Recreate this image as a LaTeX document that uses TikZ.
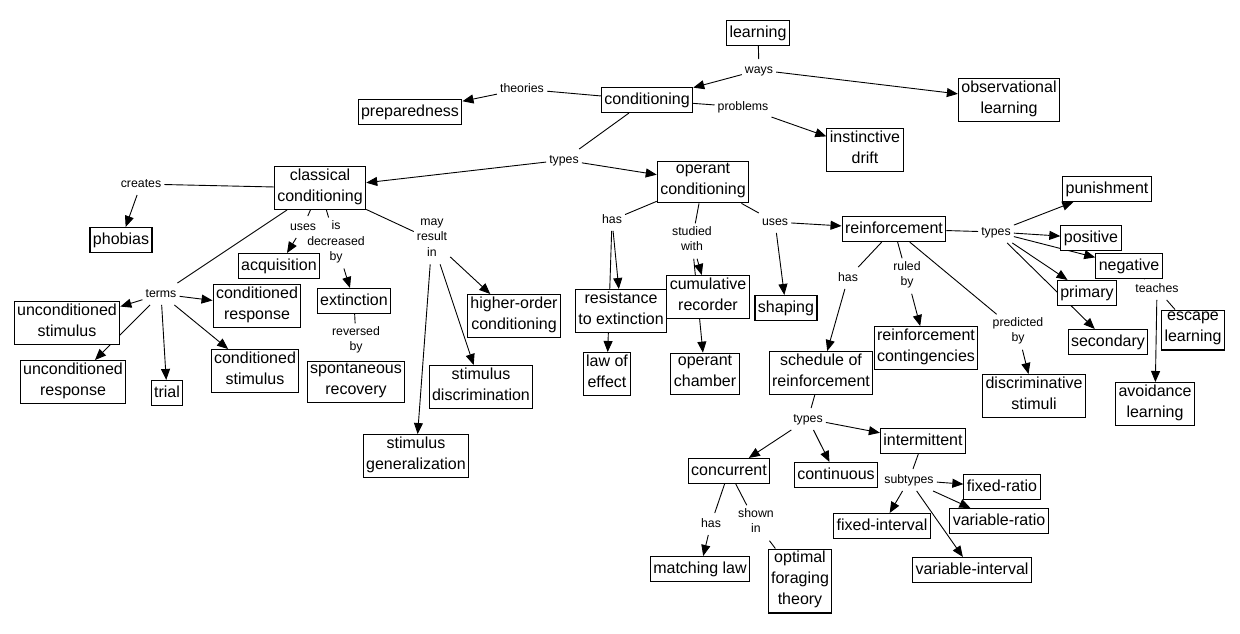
\documentclass[tikz,border=0pt]{standalone}
\usepackage{fontspec}
\setmainfont{Liberation Sans}
\usetikzlibrary{arrows.meta,backgrounds}

\begin{document}
\begin{tikzpicture}[x=1pt,y=-1pt,
		concept/.style={draw,line width=1.1pt,fill=white,align=center,
			inner xsep=3pt,inner ysep=2pt,font=\fontsize{16}{21}\selectfont,
			execute at begin node=\strut,execute at end node=\strut},
		linkword/.style={align=center,inner sep=3pt,font=\fontsize{12.3}{15.5}\selectfont,
			execute at begin node=\strut,execute at end node=\strut},
		link/.style={line width=0.9pt},
		arr/.style={link,-{Triangle[length=11pt,width=9pt]}}]
		% Bounding box.
		\useasboundingbox (0,0) rectangle (1240,633);

		% Top concepts.
		\node[concept] (learning) at (758,33) {learning};
		\node[concept] (cond) at (647,100) {conditioning};
		\node[concept] (obs) at (1009,100) {observational\\learning};
		\node[concept] (prep) at (410,112) {preparedness};
		\node[concept] (drift) at (865,150) {instinctive\\drift};
		\node[linkword] (ways) at (759,70) {ways};
		\node[linkword] (theories) at (522,89) {theories};
		\node[linkword] (problems) at (743,107) {problems};
		\node[linkword] (types1) at (564,160) {types};

		% Classical conditioning.
		\node[concept] (classical) at (320,188) {classical\\conditioning};
		\node[concept] (phobias) at (121,240) {phobias};
		\node[concept] (acq) at (279,266) {acquisition};
		\node[concept] (ext) at (354,301) {extinction};
		\node[concept] (cr) at (257,306) {conditioned\\response};
		\node[concept] (higher) at (514,316) {higher-order\\conditioning};
		\node[concept] (ucs) at (67,323) {unconditioned\\stimulus};
		\node[concept] (ucr) at (73,382) {unconditioned\\response};
		\node[concept] (trial) at (167,393) {trial};
		\node[concept] (cs) at (255,371) {conditioned\\stimulus};
		\node[concept] (spont) at (356,382) {spontaneous\\recovery};
		\node[concept] (sdisc) at (481,387) {stimulus\\discrimination};
		\node[concept] (sgen) at (416,456) {stimulus\\generalization};
		\node[linkword] (creates) at (141,184) {creates};
		\node[linkword] (uses1) at (303,227) {uses};
		\node[linkword] (decr) at (336,243) {is\\decreased\\by};
		\node[linkword] (mayres) at (432,240) {may\\result\\in};
		\node[linkword] (terms) at (161,294) {terms};
		\node[linkword] (reversed) at (356,341) {reversed\\by};

		% Operant conditioning.
		\node[concept] (operant) at (703,182) {operant\\conditioning};
		\node[concept] (resist) at (621,311) {resistance\\to extinction};
		\node[concept] (lawfx) at (607,374) {law of\\effect};
		\node[concept] (cumrec) at (708,297) {cumulative\\recorder};
		\node[concept] (chamber) at (705,374) {operant\\chamber};
		\node[concept] (shaping) at (786,308) {shaping};
		\node[linkword] (has1) at (612,220) {has};
		\node[linkword] (studied) at (692,241) {studied\\with};
		\node[linkword] (uses2) at (775,222) {uses};

		% Reinforcement.
		\node[concept] (reinf) at (894,229) {reinforcement};
		\node[concept] (punish) at (1107,189) {punishment};
		\node[concept] (positive) at (1091,238) {positive};
		\node[concept] (negative) at (1129,266) {negative};
		\node[concept] (primary) at (1087,293) {primary};
		\node[concept] (secondary) at (1108,342) {secondary};
		\node[concept] (escape) at (1193,330) {escape\\learning};
		\node[concept] (avoid) at (1155,404) {avoidance\\learning};
		\node[concept] (discrim) at (1034,396) {discriminative\\stimuli};
		\node[concept] (conting) at (926,348) {reinforcement\\contingencies};
		\node[linkword] (types2) at (996,232) {types};
		\node[linkword] (teaches) at (1157,289) {teaches};
		\node[linkword] (has2) at (848,278) {has};
		\node[linkword] (ruled) at (907,276) {ruled\\by};
		\node[linkword] (predicted) at (1018,332) {predicted\\by};

		% Schedules.
		\node[concept] (sched) at (821,373) {schedule of\\reinforcement};
		\node[concept] (intermit) at (923,441) {intermittent};
		\node[concept] (concur) at (729,471) {concurrent};
		\node[concept] (contin) at (836,475) {continuous};
		\node[concept] (fratio) at (1002,487) {fixed-ratio};
		\node[concept] (vratio) at (999,521) {variable-ratio};
		\node[concept] (finterval) at (882,526) {fixed-interval};
		\node[concept] (vinterval) at (972,570) {variable-interval};
		\node[concept] (matching) at (700,569) {matching law};
		\node[concept] (foraging) at (800,581) {optimal\\foraging\\theory};
		\node[linkword] (types3) at (808,419) {types};
		\node[linkword] (subtypes) at (909,480) {subtypes};
		\node[linkword] (has3) at (711,524) {has};
		\node[linkword] (shown) at (756,523) {shown\\in};

		% Links, behind the boxes.
		\begin{pgfonlayer}{background}
			\fill[white] (0,0) rectangle (1240,633);

			\draw[link] (learning) -- (ways);
			\draw[arr] (ways) -- (cond);
			\draw[arr] (ways) -- (obs);
			\draw[link] (cond) -- (theories);
			\draw[arr] (theories) -- (prep);
			\draw[link] (cond) -- (problems);
			\draw[arr] (problems) -- (drift);
			\draw[link] (cond) -- (types1);
			\draw[arr] (types1) -- (classical);
			\draw[arr] (types1) -- (operant);

			\draw[link] (classical) -- (creates);
			\draw[arr] (creates) -- (phobias);
			\draw[link] (classical) -- (uses1);
			\draw[arr] (uses1) -- (acq);
			\draw[link] (classical) -- (decr);
			\draw[arr] (decr) -- (ext);
			\draw[link] (ext) -- (reversed);
			\draw[link] (classical) -- (mayres);
			\draw[arr] (mayres) -- (higher);
			\draw[arr] (mayres) -- (sdisc);
			\draw[arr] (mayres) -- (sgen);
			\draw[link] (classical) -- (terms);
			\draw[arr] (terms) -- (ucs);
			\draw[arr] (terms) -- (ucr);
			\draw[arr] (terms) -- (trial);
			\draw[arr] (terms) -- (cr);
			\draw[arr] (terms) -- (cs);

			\draw[link] (operant) -- (has1);
			\draw[arr] (has1) -- (resist);
			\draw[arr] (has1) -- (lawfx);
			\draw[link] (operant) -- (studied);
			\draw[arr] (studied) -- (cumrec);
			\draw[arr] (studied) -- (chamber);
			\draw[link] (operant) -- (uses2);
			\draw[arr] (uses2) -- (reinf);
			\draw[arr] (uses2) -- (shaping);

			\draw[link] (reinf) -- (types2);
			\draw[arr] (types2) -- (punish);
			\draw[arr] (types2) -- (positive);
			\draw[arr] (types2) -- (negative);
			\draw[arr] (types2) -- (primary);
			\draw[arr] (types2) -- (secondary);
			\draw[link] (negative) -- (teaches);
			\draw[link] (teaches) -- (escape);
			\draw[arr] (teaches) -- (avoid);
			\draw[link] (reinf) -- (has2);
			\draw[arr] (has2) -- (sched);
			\draw[link] (reinf) -- (ruled);
			\draw[arr] (ruled) -- (conting);
			\draw[link] (reinf) -- (predicted);
			\draw[arr] (predicted) -- (discrim);

			\draw[link] (sched) -- (types3);
			\draw[arr] (types3) -- (concur);
			\draw[arr] (types3) -- (contin);
			\draw[arr] (types3) -- (intermit);
			\draw[link] (intermit) -- (subtypes);
			\draw[arr] (subtypes) -- (fratio);
			\draw[arr] (subtypes) -- (vratio);
			\draw[arr] (subtypes) -- (finterval);
			\draw[arr] (subtypes) -- (vinterval);
			\draw[link] (concur) -- (has3);
			\draw[arr] (has3) -- (matching);
			\draw[link] (concur) -- (shown);
			\draw[link] (shown) -- (foraging);
		\end{pgfonlayer}
	\end{tikzpicture}
\end{document}
